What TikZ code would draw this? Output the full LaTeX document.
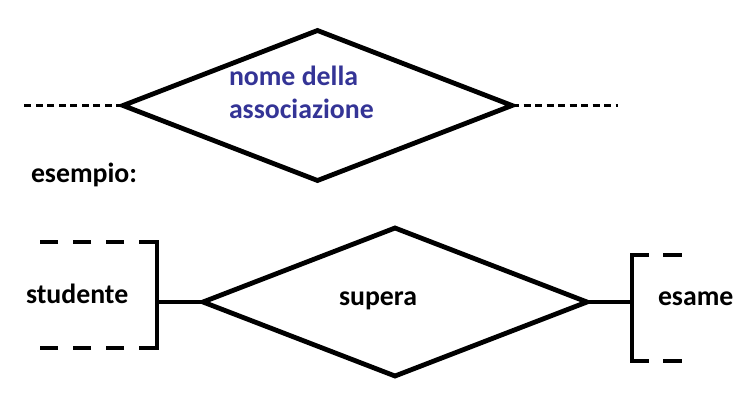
\documentclass[tikz,border=0pt]{standalone}
\usepackage{fontspec}
\newfontfamily\calib{Carlito}
\usetikzlibrary{shapes.geometric}
\definecolor{assocblue}{RGB}{52,52,150}
\tikzset{
  thick line/.style={line width=4.8pt, line join=miter},
  rel/.style={diamond, draw, thick line, inner sep=0pt, outer sep=0pt},
  thin dash/.style={line width=2.8pt, dash pattern=on 7pt off 4.5pt},
  brack dash/.style={line width=4.8pt, dash pattern=on 18.5pt off 14.5pt},
  brack solid/.style={line width=4.8pt, line cap=rect},
  lbl/.style={font=\calib\bfseries\fontsize{27.8}{33}\selectfont, inner sep=0pt, outer sep=0pt},
}
\begin{document}
\begin{tikzpicture}[x=1pt, y=-1pt]
\useasboundingbox (0,0) rectangle (744,402);
\fill[white] (0,0) rectangle (744,402);

% top: generic relationship
\node[rel, minimum width=389pt, minimum height=150pt] (assoc) at (317.5,105.5) {};
\coordinate (lend) at (20,105.5);
\coordinate (rend) at (618,105.5);
\draw[thin dash] (assoc.west) -- (lend);
\draw[thin dash] (assoc.east) -- (rend);
\node[lbl, text=assocblue, anchor=base west, align=left] (assoctext) at (229,118) {nome della\\associazione};

\node[lbl, anchor=base west] (esempio) at (31,182) {esempio:};

% bottom: example
\node[rel, minimum width=384pt, minimum height=148pt] (supera) at (395,302) {};
\node[lbl, anchor=base] (superatext) at (378,305) {supera};

% studente bracket
\coordinate (stTop) at (157,242);
\coordinate (stBot) at (157,348);
\coordinate (stMid) at (157,302);
\coordinate (stTopEnd) at (39,242);
\coordinate (stBotEnd) at (39,348);
\draw[brack solid] (stTop) -- (stBot);
\draw[brack dash] (stTop) -- (stTopEnd);
\draw[brack dash] (stBot) -- (stBotEnd);
\node[lbl, anchor=base west] (studente) at (26,303) {studente};
\draw[thick line] (stMid) -- (supera.west);

% esame bracket
\coordinate (esTop) at (632,255);
\coordinate (esBot) at (632,361);
\coordinate (esMid) at (632,302);
\coordinate (esTopEnd) at (682,255);
\coordinate (esBotEnd) at (682,361);
\draw[brack solid] (esTop) -- (esBot);
\draw[line width=4.8pt, dash pattern=on 17pt off 14pt on 19pt off 14pt] (esTop) -- (esTopEnd);
\draw[line width=4.8pt, dash pattern=on 17pt off 14pt on 19pt off 14pt] (esBot) -- (esBotEnd);
\node[lbl, anchor=base west] (esame) at (658,305) {esame};
\draw[thick line] (supera.east) -- (esMid);
\end{tikzpicture}
\end{document}
